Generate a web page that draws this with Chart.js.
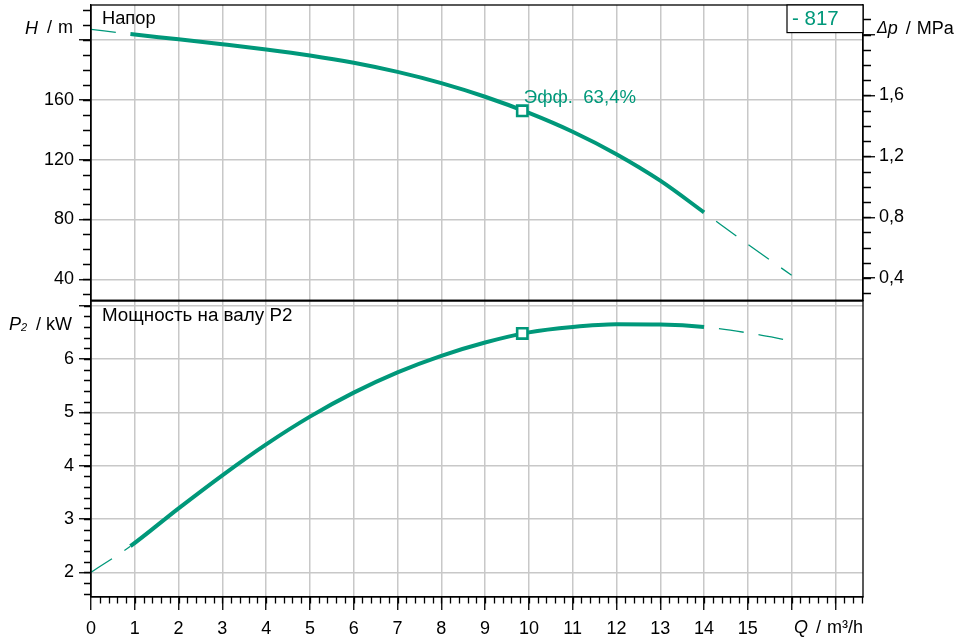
<!DOCTYPE html>
<html>
<head>
<meta charset="utf-8">
<script src="https://cdn.jsdelivr.net/npm/chart.js@4.4.1/dist/chart.umd.min.js"></script>
<style>
  html, body { margin: 0; padding: 0; background: #fff; }
  #page { position: relative; width: 957px; height: 643px; overflow: hidden; background: #fff; }
  .box { position: absolute; left: 0; width: 957px; }
  #topBox { top: -20px; height: 336px; }
  #botBox { top: 281px; height: 362px; }
</style>
</head>
<body>
<div id="page">
  <div class="box" id="botBox"><canvas id="powerChart"></canvas></div>
  <div class="box" id="topBox"><canvas id="headChart"></canvas></div>
</div>
<script>
const GREEN = '#00987a';
const GRID = '#c8c8c8';
const FONT = '"Liberation Sans", Arial, sans-serif';

// flow Q, m3/h
const flowQ = [0, 0.9, 2, 3, 4, 5, 6, 7, 8, 9, 10, 11, 12, 13, 14, 15, 16];
// head H, m
const headH = [207.1, 203.9, 200.4, 197.1, 193.6, 189.6, 184.7, 178.6, 171.1, 162.0, 151.2, 138.6, 123.6, 105.9, 84.7, 63.3, 42.7];
// shaft power P2, kW
const powerP2 = [2.00, 2.49, 3.20, 3.82, 4.40, 4.92, 5.37, 5.75, 6.06, 6.31, 6.50, 6.60, 6.65, 6.645, 6.60, 6.49, 6.34];

// curve is solid inside the working range, dashed outside
const solidFrom = 0.9;
const solidTo = 14;

// duty point
const dutyQ = [9.85];
const dutyH = [152.6];
const dutyP2 = [6.48];
const dutyText = 'Эфф.  63,4%';
const pumpTag = '- 817';

const qTicks = [0, 1, 2, 3, 4, 5, 6, 7, 8, 9, 10, 11, 12, 13, 14, 15, 16, 17];
const qLabels = ['0', '1', '2', '3', '4', '5', '6', '7', '8', '9', '10', '11', '12', '13', '14', '15', '', ''];
const hTicks = [40, 80, 120, 160, 200];
const hLabels = ['40', '80', '120', '160', ''];
const dpTicks = [0.4, 0.8, 1.2, 1.6, 2.0];
const dpLabels = ['0,4', '0,8', '1,2', '1,6', ''];
const pTicks = [2, 3, 4, 5, 6, 7];
const pLabels = ['2', '3', '4', '5', '6', ''];

const M_PER_MPA = 101.8;
const Q_MAX = 17.63;
const H_MIN = 26, H_MAX = 223.33;
const P_MIN = 1.537, P_MAX = 7.088;

Chart.defaults.font.family = FONT;
Chart.defaults.font.size = 18;
Chart.defaults.color = '#000';

function pts(xs, ys) {
  return xs.map((x, i) => ({ x: x, y: ys[i] }));
}

function fixedTicks(values) {
  return scale => { scale.ticks = values.map(v => ({ value: v })); };
}

function curveSegment() {
  const solid = c => flowQ[c.p0DataIndex] >= solidFrom - 1e-6 && flowQ[c.p1DataIndex] <= solidTo + 1e-6;
  return {
    borderWidth: c => solid(c) ? 4 : 1.3,
    borderDash: c => solid(c) ? [] : [25, 15],
    borderDashOffset: c => flowQ[c.p0DataIndex] >= solidTo ? 25 : 0
  };
}

const grid = { color: GRID, lineWidth: 1.5, tickColor: '#000', tickWidth: 1.3, tickLength: 12 };
const border = { color: '#000', width: 1.3 };

// minor ticks between the labelled ones
const minorTicks = {
  id: 'minorTicks',
  afterDraw(chart, args, opts) {
    const ctx = chart.ctx;
    ctx.save();
    ctx.strokeStyle = '#000';
    ctx.lineWidth = 1.3;
    ctx.beginPath();
    for (const m of opts.list || []) {
      const s = chart.scales[m.axis];
      for (let k = Math.ceil(m.from / m.step - 1e-6); k * m.step <= m.to + 1e-6; k++) {
        const p = Math.round(s.getPixelForValue(k * m.step)) + 0.5;
        if (s.axis === 'x') { ctx.moveTo(p, s.top); ctx.lineTo(p, s.top + m.len); }
        else if (s.position === 'left') { ctx.moveTo(s.right - m.len, p); ctx.lineTo(s.right, p); }
        else { ctx.moveTo(s.left, p); ctx.lineTo(s.left + m.len, p); }
      }
    }
    ctx.stroke();
    ctx.restore();
  }
};

function fontOf(size, italic) {
  return (italic ? 'italic ' : '') + size + 'px ' + FONT;
}

// runs: [text, size, italic, dy] or a number = gap in px
function drawRuns(ctx, runs, x, y, align) {
  ctx.textBaseline = 'middle';
  ctx.textAlign = 'left';
  const widths = runs.map(r => {
    if (typeof r === 'number') return r;
    ctx.font = fontOf(r[1] || 18, r[2]);
    return ctx.measureText(r[0]).width;
  });
  const total = widths.reduce((a, b) => a + b, 0);
  let cx = align === 'right' ? x - total : x;
  runs.forEach((r, i) => {
    if (typeof r !== 'number') {
      ctx.font = fontOf(r[1] || 18, r[2]);
      ctx.fillText(r[0], cx, y + (r[3] || 0));
    }
    cx += widths[i];
  });
}

function frame(chart) {
  const a = chart.chartArea;
  const ctx = chart.ctx;
  ctx.save();
  ctx.strokeStyle = '#000';
  ctx.lineWidth = 1.3;
  ctx.strokeRect(a.left, a.top, a.right - a.left, a.bottom - a.top);
  ctx.restore();
}

const headText = {
  id: 'headText',
  afterDraw(chart) {
    const a = chart.chartArea;
    const ctx = chart.ctx;
    frame(chart);
    ctx.save();
    ctx.fillStyle = '#000';
    drawRuns(ctx, [['Напор', 18.3]], a.left + 11, a.top + 14);
    drawRuns(ctx, [['H', 18, true], 9, ['/'], 6, ['m']], a.left - 18, a.top + 23.5, 'right');
    drawRuns(ctx, [['Δ', 16, true], ['p', 18, true], 8, ['/'], 6, ['MPa']], a.right + 14, a.top + 24);
    // pump tag box
    ctx.fillStyle = '#fff';
    ctx.fillRect(a.right - 76, a.top, 76, 27.6);
    ctx.strokeStyle = '#000';
    ctx.lineWidth = 1.2;
    ctx.strokeRect(a.right - 76, a.top, 76, 27.6);
    ctx.fillStyle = GREEN;
    drawRuns(ctx, [[pumpTag, 20.5]], a.right - 71, a.top + 14.5);
    // efficiency at duty point
    const px = chart.scales.x.getPixelForValue(dutyQ[0]);
    const py = chart.scales.yH.getPixelForValue(dutyH[0]);
    drawRuns(ctx, [[dutyText, 18.6]], px + 1.5, py - 13);
    ctx.restore();
  }
};

const powerText = {
  id: 'powerText',
  afterDraw(chart) {
    const a = chart.chartArea;
    const ctx = chart.ctx;
    frame(chart);
    ctx.save();
    ctx.fillStyle = '#000';
    drawRuns(ctx, [['Мощность на валу P2', 18.8]], a.left + 11, a.top + 15.3);
    drawRuns(ctx, [['P', 18, true], ['2', 11, true, 3], 9, ['/'], 5, ['kW']], a.left - 19, a.top + 24, 'right');
    drawRuns(ctx, [['Q', 18, true], 8, ['/'], 6, ['m³/h']], a.right, a.bottom + 31, 'right');
    ctx.restore();
  }
};

const common = {
  responsive: true,
  maintainAspectRatio: false,
  animation: false,
  events: [],
  plugins: { legend: { display: false }, tooltip: { enabled: false } }
};

new Chart(document.getElementById('headChart'), {
  type: 'line',
  data: {
    datasets: [
      {
        data: pts(dutyQ, dutyH), yAxisID: 'yH', showLine: false,
        pointStyle: 'rect', pointRadius: 7.3, pointBorderWidth: 2.6,
        pointBackgroundColor: '#fff', pointBorderColor: GREEN
      },
      {
        data: pts(flowQ, headH), yAxisID: 'yH',
        borderColor: GREEN, borderWidth: 4, pointRadius: 0,
        cubicInterpolationMode: 'monotone', segment: curveSegment()
      }
    ]
  },
  options: Object.assign({}, common, {
    layout: { padding: { top: 25, bottom: 15, left: 0, right: 0 } },
    plugins: Object.assign({}, common.plugins, {
      minorTicks: { list: [
        { axis: 'yH', step: 10, from: 30, to: 220, len: 8 },
        { axis: 'yDp', step: 0.1, from: 0.3, to: 2.1, len: 8 }
      ] }
    }),
    scales: {
      x: {
        type: 'linear', min: 0, max: Q_MAX,
        afterBuildTicks: fixedTicks(qTicks),
        afterFit: s => { s.height = 0; },
        grid: { color: GRID, lineWidth: 1.5, drawTicks: false },
        border: border,
        ticks: { display: false }
      },
      yH: {
        position: 'left', min: H_MIN, max: H_MAX,
        afterBuildTicks: fixedTicks(hTicks),
        afterFit: s => { s.width = 91; },
        grid: grid, border: border,
        ticks: { callback: (v, i) => hLabels[i], padding: 5, autoSkip: false }
      },
      yDp: {
        position: 'right', min: H_MIN / M_PER_MPA, max: H_MAX / M_PER_MPA,
        afterBuildTicks: fixedTicks(dpTicks),
        afterFit: s => { s.width = 94; },
        grid: Object.assign({}, grid, { drawOnChartArea: false }), border: border,
        ticks: { callback: (v, i) => dpLabels[i], padding: 4, autoSkip: false }
      }
    }
  }),
  plugins: [minorTicks, headText]
});

new Chart(document.getElementById('powerChart'), {
  type: 'line',
  data: {
    datasets: [
      {
        data: pts(dutyQ, dutyP2), yAxisID: 'yP', showLine: false,
        pointStyle: 'rect', pointRadius: 7.3, pointBorderWidth: 2.6,
        pointBackgroundColor: '#fff', pointBorderColor: GREEN
      },
      {
        data: pts(flowQ, powerP2), yAxisID: 'yP',
        borderColor: GREEN, borderWidth: 4, pointRadius: 0,
        cubicInterpolationMode: 'monotone', segment: curveSegment()
      }
    ]
  },
  options: Object.assign({}, common, {
    layout: { padding: { top: 20, bottom: 0, left: 0, right: 94 } },
    plugins: Object.assign({}, common.plugins, {
      minorTicks: { list: [
        { axis: 'yP', step: 0.2, from: 1.6, to: 7.0, len: 7 },
        { axis: 'x', step: 0.2, from: 0.2, to: 17.6, len: 6.5 }
      ] }
    }),
    scales: {
      x: {
        type: 'linear', min: 0, max: Q_MAX,
        afterBuildTicks: fixedTicks(qTicks),
        afterFit: s => { s.height = 46; },
        grid: Object.assign({}, grid, { tickLength: 13 }), border: border,
        ticks: { callback: (v, i) => qLabels[i], padding: 8, autoSkip: false, maxRotation: 0 }
      },
      yP: {
        position: 'left', min: P_MIN, max: P_MAX,
        afterBuildTicks: fixedTicks(pTicks),
        afterFit: s => { s.width = 91; },
        grid: grid, border: border,
        ticks: { callback: (v, i) => pLabels[i], padding: 5, autoSkip: false }
      }
    }
  }),
  plugins: [minorTicks, powerText]
});
</script>
</body>
</html>
